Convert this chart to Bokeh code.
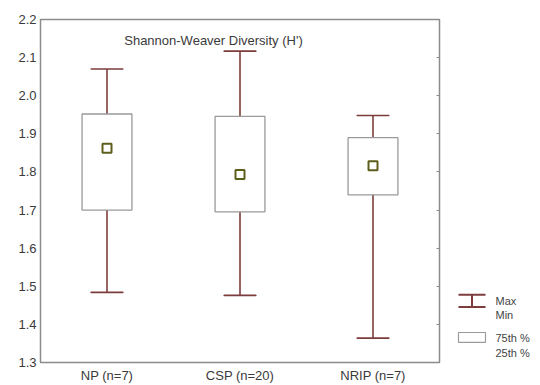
from bokeh.plotting import figure
from bokeh.layouts import row
from bokeh.models import (ColumnDataSource, FactorRange, Range1d, Label,
                          FixedTicker, NumeralTickFormatter, LinearAxis)
from bokeh.embed import file_html
from bokeh.resources import INLINE
from bokeh.core.properties import value

groups = ["NP (n=7)", "CSP (n=20)", "NRIP (n=7)"]
vmax = [2.070, 2.117, 1.948]
q3 = [1.952, 1.946, 1.890]
median = [1.862, 1.793, 1.816]
q1 = [1.700, 1.695, 1.740]
vmin = [1.484, 1.476, 1.364]
yticks = [1.3, 1.4, 1.5, 1.6, 1.7, 1.8, 1.9, 2.0, 2.1, 2.2]
legend_labels = ["Max", "Min", "75th %", "25th %"]
median_label = "Median"

FONT = "Liberation Sans"
WHISK = "#7d3c3c"
BOXC = "#9a9a9a"
MEDC = "#5e5e1c"
TXT = "#3a3a3a"
FRAME = "#8c8c8c"

src = ColumnDataSource(dict(g=groups, vmax=vmax, q3=q3, med=median, q1=q1, vmin=vmin))

H = 385
p = figure(width=445, height=H, x_range=FactorRange(*groups), y_range=Range1d(1.3, 2.2),
           output_backend="svg", toolbar_location=None,
           min_border_left=40, min_border_right=6, min_border_top=19, min_border_bottom=23)
p.background_fill_color = "white"
p.border_fill_color = "white"
p.outline_line_color = FRAME
p.outline_line_width = 1.5
p.xgrid.visible = False
p.ygrid.visible = False

# whiskers
p.segment(x0="g", y0="vmin", x1="g", y1="vmax", source=src, line_color=WHISK, line_width=1.6)
p.rect(x="g", y="vmax", width=0.24, height=0.0001, source=src, line_color=WHISK, line_width=1.6, fill_alpha=0)
p.rect(x="g", y="vmin", width=0.24, height=0.0001, source=src, line_color=WHISK, line_width=1.6, fill_alpha=0)
# boxes
p.vbar(x="g", top="q3", bottom="q1", width=0.375, source=src, fill_color="white",
       line_color=BOXC, line_width=1.3)
# medians
p.scatter(x="g", y="med", source=src, marker="square", size=9, fill_color="white",
          line_color=MEDC, line_width=2)

# axes
yax = p.yaxis[0]
yax.ticker = FixedTicker(ticks=yticks)
yax.formatter = NumeralTickFormatter(format="0.0")
yax.major_tick_out = 0
yax.major_tick_in = 0
yax.minor_tick_out = 0
yax.axis_line_color = FRAME
yax.major_label_text_font = FONT
yax.major_label_text_font_size = "13px"
yax.major_label_text_color = TXT
yax.major_label_standoff = 4

xax = p.xaxis[0]
xax.major_tick_out = 0
xax.major_tick_in = 0
xax.axis_line_color = FRAME
xax.major_label_text_font = FONT
xax.major_label_text_font_size = "13px"
xax.major_label_text_color = TXT
xax.major_label_standoff = 5

rax = LinearAxis(ticker=FixedTicker(ticks=yticks[1:-1]),
                 major_label_overrides={t: "" for t in yticks},
                 major_label_standoff=0,
                 major_tick_in=3, major_tick_out=0, minor_tick_out=0, minor_tick_in=0,
                 axis_line_color=None, major_tick_line_color=FRAME)
p.add_layout(rax, "right")

# title inside the plot (screen units relative to the frame)
p.add_layout(Label(x=173, y=322, x_units="screen", y_units="screen",
                   text="Shannon-Weaver Diversity (H')", text_align="center",
                   text_baseline="middle", text_font=FONT, text_font_size="13px",
                   text_color=TXT))

# legend panel (separate small figure; its frame is aligned with the main frame)
leg = figure(width=95, height=H, x_range=Range1d(445, 540), y_range=Range1d(362.5, 13.5),
             output_backend="svg", toolbar_location=None,
             x_axis_location=None, y_axis_location=None,
             min_border_left=0, min_border_right=0, min_border_top=0, min_border_bottom=0)
leg.grid.visible = False
leg.outline_line_color = None
leg.background_fill_color = "white"
leg.border_fill_color = "white"

leg.segment(x0=[458, 458, 471.5], y0=[293.5, 306, 293.5], x1=[485, 485, 471.5],
            y1=[293.5, 306, 306], line_color=WHISK, line_width=2)
leg.quad(left=[458], right=[485], top=[332], bottom=[342], fill_color="white",
         line_color=BOXC, line_width=1.2)
leg.text(x=[495] * 4, y=[299.5, 314.5, 337.5, 352.5], text=legend_labels,
         text_baseline="middle", text_font=value(FONT), text_font_size="11px",
         text_color="#444444")

# the Median entry lies below the aligned frame, so it is drawn with (unclipped) labels
leg.add_layout(Label(x=470.5, y=373.5, text="\u2003", text_align="center",
                     text_baseline="middle", text_font=FONT, text_font_size="8px",
                     text_color="white", background_fill_color="white",
                     border_line_color=MEDC, border_line_width=2))
leg.add_layout(Label(x=495, y=373.5, text=median_label, text_baseline="middle",
                     text_font=FONT, text_font_size="11px", text_color="#444444"))

layout = row(p, leg, spacing=0)
open("out.html", "w").write(file_html(layout, INLINE))
